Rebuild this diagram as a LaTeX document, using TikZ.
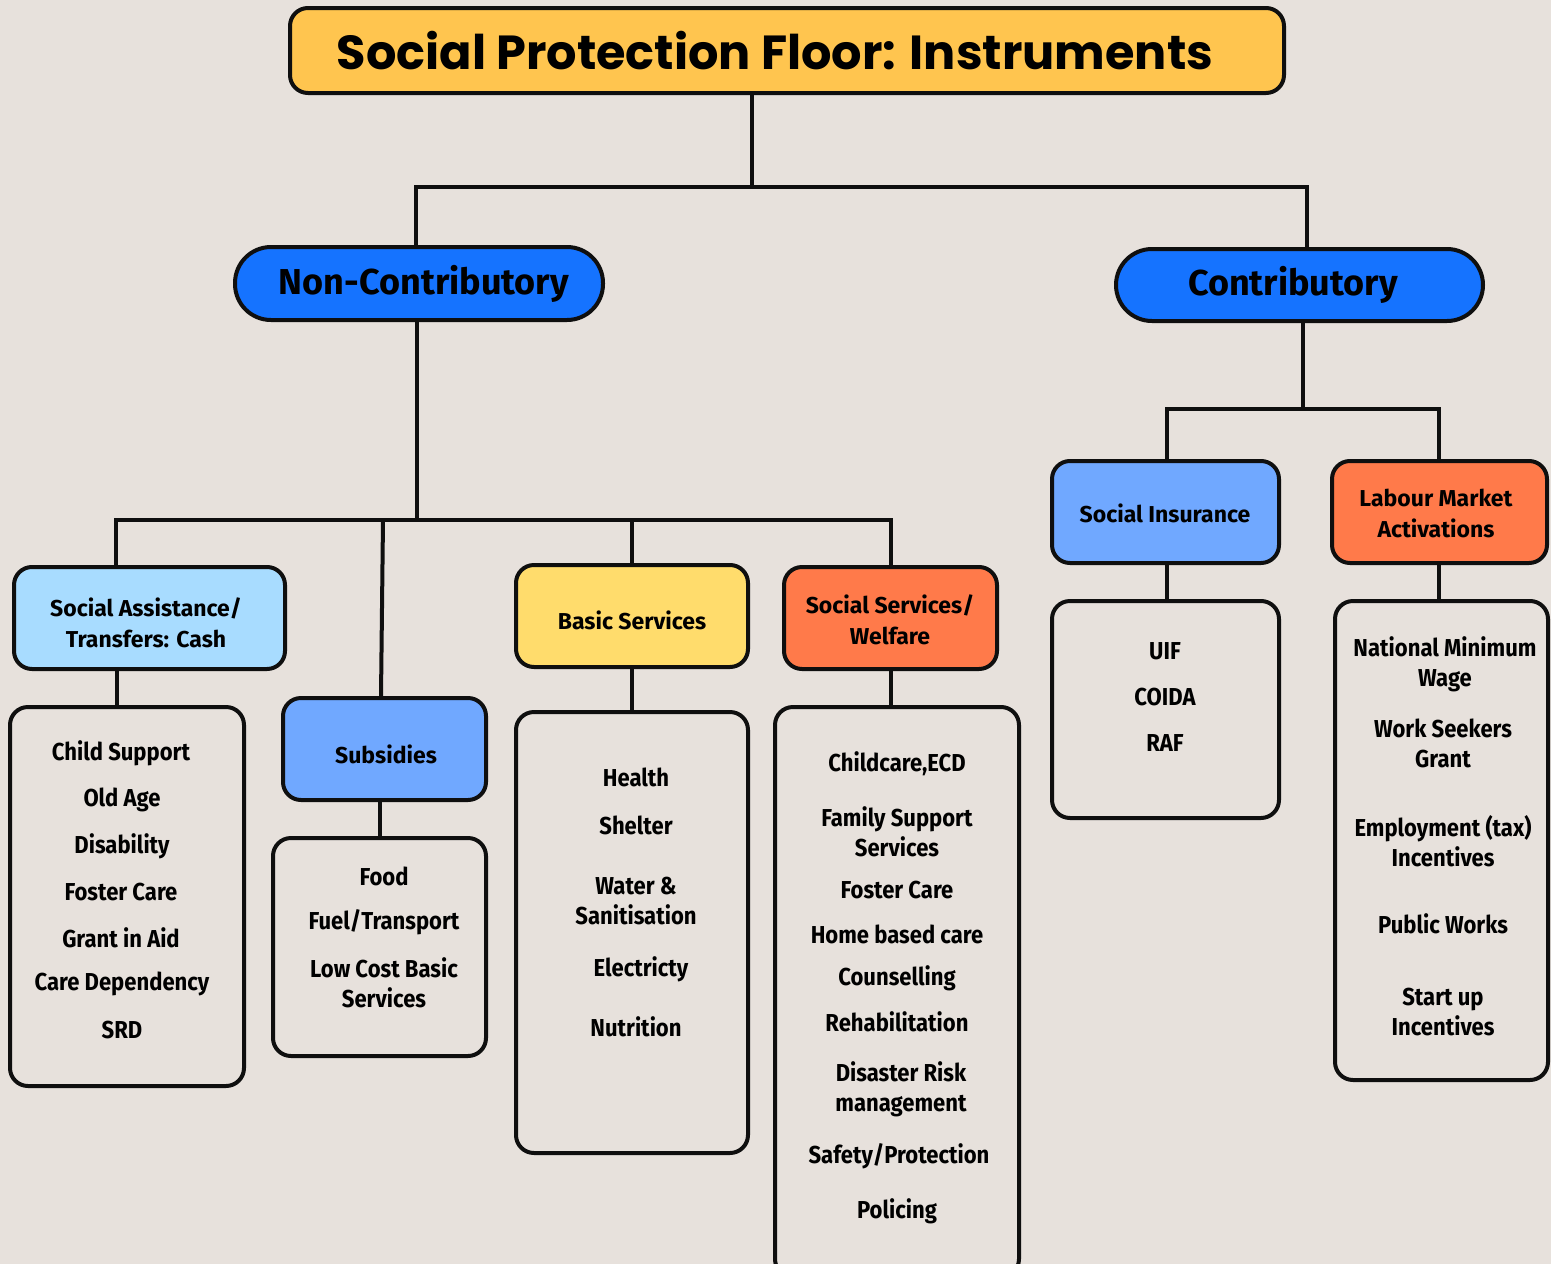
\documentclass[tikz,border=0pt]{standalone}
\usepackage{fontspec}
\newfontfamily\titlefont{Poppins}
\newfontfamily\condfont{Fira Sans}[FakeStretch=0.9]
\newfontfamily\catfont{Fira Sans}
\definecolor{bg}{HTML}{E7E1DC}
\definecolor{titlefill}{HTML}{FFC54F}
\definecolor{blue}{HTML}{1573FF}
\definecolor{lightblue}{HTML}{A8DCFF}
\definecolor{midblue}{HTML}{70A8FF}
\definecolor{yellowfill}{HTML}{FFDC6C}
\definecolor{orangefill}{HTML}{FF7A4A}
\definecolor{ink}{HTML}{0F0F0F}
\tikzset{
  box/.style={draw=ink, line width=4pt, rounded corners=18pt, inner sep=0pt, align=center},
  pill/.style={draw=ink, line width=4pt, rounded corners=36pt, fill=blue, inner sep=0pt},
  pilltext/.style={inner sep=0pt, font=\catfont\bfseries\fontsize{36}{40}\selectfont},
  cattext/.style={inner sep=0pt, align=center, font=\catfont\bfseries\fontsize{23}{31}\selectfont},
  item/.style={inner sep=0pt, align=center, font=\condfont\bfseries\fontsize{24.5}{30}\selectfont},
  conn/.style={draw=ink, line width=4pt}
}
\begin{document}
\begin{tikzpicture}[x=1pt,y=-1pt]
\useasboundingbox[fill=bg] (0,0) rectangle (1551,1264);

% title
\node[box, fill=titlefill, minimum width=994pt, minimum height=85pt] (title) at (787,50.5) {};
\node[inner sep=0pt, font=\titlefont\bfseries\fontsize{47.8}{52}\selectfont] (titletext) at (775,50.5) {Social Protection Floor: Instruments};

% level 1
\node[pill, minimum width=368pt, minimum height=73pt] (nc) at (419,283.5) {};
\node[pilltext] (nctext) at (424,283.5) {Non-Contributory};
\node[pill, minimum width=367pt, minimum height=72pt] (c) at (1299.5,285) {};
\node[pilltext] (ctext) at (1293,285) {Contributory};

\coordinate (j0) at (752,187);
\draw[conn] (j0 |- title.south) -- (j0);
\draw[conn] ([xshift=-3pt]nc.north) -- ([xshift=-3pt]nc.north |- j0) -- ([xshift=7.5pt]c.north |- j0) -- ([xshift=7.5pt]c.north);

% level 2 (non-contributory)
\node[box, fill=lightblue, minimum width=271pt, minimum height=102pt] (sa) at (149.5,618) {};
\node[cattext] (satext) at (146,623) {Social Assistance/\\Transfers: Cash};
\node[box, fill=midblue, minimum width=203pt, minimum height=102pt] (sub) at (384.5,749) {};
\node[cattext] (subtext) at (386,754) {Subsidies};
\node[box, fill=yellowfill, minimum width=232pt, minimum height=102pt] (bs) at (632,616) {};
\node[cattext] (bstext) at (632,620) {Basic Services};
\node[box, fill=orangefill, minimum width=213pt, minimum height=102pt] (ss) at (890.5,618) {};
\node[cattext] (sstext) at (890,620) {Social Services/\\Welfare};

\coordinate (j1) at (417,520);
\draw[conn] ([xshift=-2pt]nc.south) -- (j1);
\draw[conn] (sa.north -| 116,0) -- (116,520) -- (891,520) -- (ss.north -| 891,0);
\draw[conn] (383,520) -- (sub.north -| 381,0);
\draw[conn] (632,520) -- (bs.north);

% level 2 (contributory)
\node[box, fill=midblue, minimum width=227pt, minimum height=102pt] (si) at (1165.5,512) {};
\node[cattext] (sitext) at (1165,513) {Social Insurance};
\node[box, fill=orangefill, minimum width=215pt, minimum height=102pt] (lm) at (1439.5,512) {};
\node[cattext] (lmtext) at (1436,513) {Labour Market\\Activations};
\draw[conn] ([xshift=3.5pt]c.south) -- (1303,409);
\draw[conn] (si.north -| 1167,0) -- (1167,409) -- (1439,409) -- (lm.north -| 1439,0);

% list boxes
\node[box, minimum width=234pt, minimum height=379pt] (sal) at (127,896.5) {};
\node[box, minimum width=213pt, minimum height=218pt] (subl) at (379.5,947) {};
\node[box, minimum width=232pt, minimum height=441pt] (bsl) at (632,932.5) {};
\node[box, minimum width=244pt, minimum height=570pt] (ssl) at (897,992) {};
\node[box, minimum width=227pt, minimum height=217pt] (sil) at (1165.5,709.5) {};
\node[box, minimum width=213pt, minimum height=479pt] (lml) at (1441.5,840.5) {};

\draw[conn] (sa.south -| 117,0) -- (sal.north -| 117,0);
\draw[conn] (sub.south -| 380,0) -- (subl.north -| 380,0);
\draw[conn] (bs.south) -- (bsl.north);
\draw[conn] (ss.south -| 891,0) -- (ssl.north -| 891,0);
\draw[conn] (si.south -| 1167,0) -- (sil.north -| 1167,0);
\draw[conn] (lm.south -| 1439,0) -- (lml.north -| 1439,0);

% items: social assistance
\node[item] (sa1) at (121,753) {Child Support};
\node[item] (sa2) at (122,800) {Old Age};
\node[item] (sa3) at (122,846) {Disability};
\node[item] (sa4) at (121,892) {Foster Care};
\node[item] (sa5) at (121,938) {Grant in Aid};
\node[item] (sa6) at (122,984) {Care Dependency};
\node[item] (sa7) at (122,1030) {SRD};

% items: subsidies
\node[item] (sub1) at (384,876) {Food};
\node[item] (sub2) at (384,922) {Fuel/Transport};
\node[item] (sub3) at (384,983) {Low Cost Basic\\Services};

% items: basic services
\node[item] (bs1) at (636,777) {Health};
\node[item] (bs2) at (636,825) {Shelter};
\node[item] (bs3) at (636,901) {Water \&\\Sanitisation};
\node[item] (bs4) at (641,969) {Electricty};
\node[item] (bs5) at (636,1027) {Nutrition};

% items: social services
\node[item] (ss1) at (897,764) {Childcare,ECD};
\node[item] (ss2) at (897,831.5) {Family Support\\Services};
\node[item] (ss3) at (897,890) {Foster Care};
\node[item] (ss4) at (897,934) {Home based care};
\node[item] (ss5) at (897,978) {Counselling};
\node[item] (ss6) at (897,1022) {Rehabilitation};
\node[item] (ss7) at (901,1089) {Disaster Risk\\management};
\node[item] (ss8) at (899,1156) {Safety/Protection};
\node[item] (ss9) at (897,1211) {Policing};

% items: social insurance
\node[item] (si1) at (1165,651) {UIF};
\node[item] (si2) at (1165,697) {COIDA};
\node[item] (si3) at (1165,743) {RAF};

% items: labour market
\node[item] (lm1) at (1445,664.5) {National Minimum\\Wage};
\node[item] (lm2) at (1443,743) {Work Seekers\\Grant};
\node[item] (lm3) at (1443,841) {Employment (tax)\\Incentives};
\node[item] (lm4) at (1443,924) {Public Works};
\node[item] (lm5) at (1443,1012) {Start up\\Incentives};
\end{tikzpicture}
\end{document}
